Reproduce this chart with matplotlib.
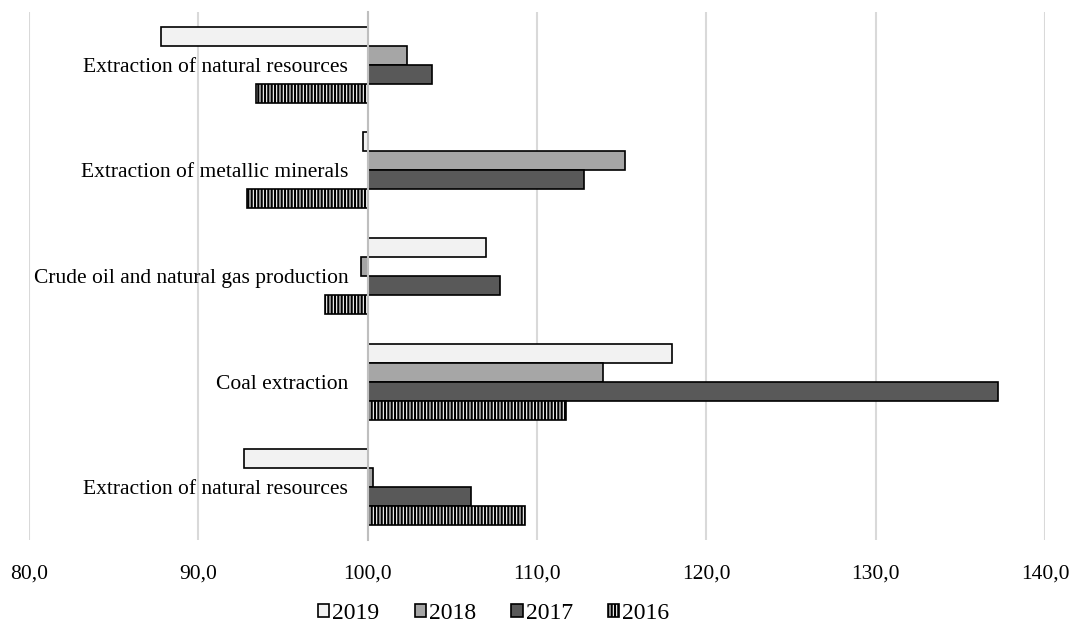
import matplotlib
matplotlib.use("Agg")
import matplotlib.pyplot as plt
import matplotlib.ticker as mticker
from matplotlib.patches import Patch
import numpy as np

plt.rcParams['font.family'] = ['Liberation Serif', 'DejaVu Serif']
plt.rcParams['hatch.linewidth'] = 1.6

# categories listed from bottom to top
categories = [
    "Extraction of natural resources",
    "Coal extraction",
    "Crude oil and natural gas production",
    "Extraction of metallic minerals",
    "Extraction of natural resources",
]
years = ["2019", "2018", "2017", "2016"]
v2019 = [92.7, 118.0, 107.0, 99.7, 87.8]
v2018 = [100.3, 113.9, 99.6, 115.2, 102.3]
v2017 = [106.1, 137.2, 107.8, 112.8, 103.8]
v2016 = [109.3, 111.7, 97.5, 92.9, 93.4]

base = 100.0
fills = ["#f2f2f2", "#a6a6a6", "#595959", "white"]
hatches = [None, None, None, "|||||"]

fig = plt.figure(figsize=(10.71, 6.30), dpi=100)
ax = fig.add_axes([0.027, 0.143, 0.9487, 0.838])

y = np.arange(len(categories))
h = 0.18
offsets = [1.5 * h, 0.5 * h, -0.5 * h, -1.5 * h]
series = [v2019, v2018, v2017, v2016]
for vals, off, fc, ht in zip(series, offsets, fills, hatches):
    widths = [v - base for v in vals]
    ax.barh(y + off, widths, left=base, height=h, color=fc, edgecolor="black",
            linewidth=1.2, hatch=ht, zorder=2)

ax.set_xlim(80, 140)
ax.set_ylim(-0.5, 4.5)
ax.xaxis.set_major_locator(mticker.MultipleLocator(10))
ax.xaxis.set_major_formatter(mticker.FuncFormatter(lambda v, p: f"{v:.1f}".replace(".", ",")))
ax.grid(axis="x", color="#d9d9d9", linewidth=1.5, zorder=0)
ax.set_axisbelow(True)

# vertical axis sits on 100 and carries the category labels
ax.spines['left'].set_position(('data', base))
ax.spines['left'].set_color("#bfbfbf")
ax.spines['left'].set_linewidth(1.5)
ax.spines['left'].set_zorder(5)
for s in ['top', 'right', 'bottom']:
    ax.spines[s].set_visible(False)
ax.set_yticks(y)
ax.set_yticklabels(categories, fontsize=15.5)
ax.tick_params(axis='y', length=0, pad=14)
ax.tick_params(axis='x', length=0, pad=18, labelsize=15.5)

handles = [Patch(facecolor=fc, edgecolor="black", linewidth=1.2, hatch=ht)
           for fc, ht in zip(fills, hatches)]
fig.legend(handles, years, loc="center", bbox_to_anchor=(0.461, 0.026), ncol=4,
           frameon=False, fontsize=17, handlelength=0.47, handleheight=0.47,
           handletextpad=0.13, columnspacing=1.5)

fig.savefig("out.png", dpi=100)
